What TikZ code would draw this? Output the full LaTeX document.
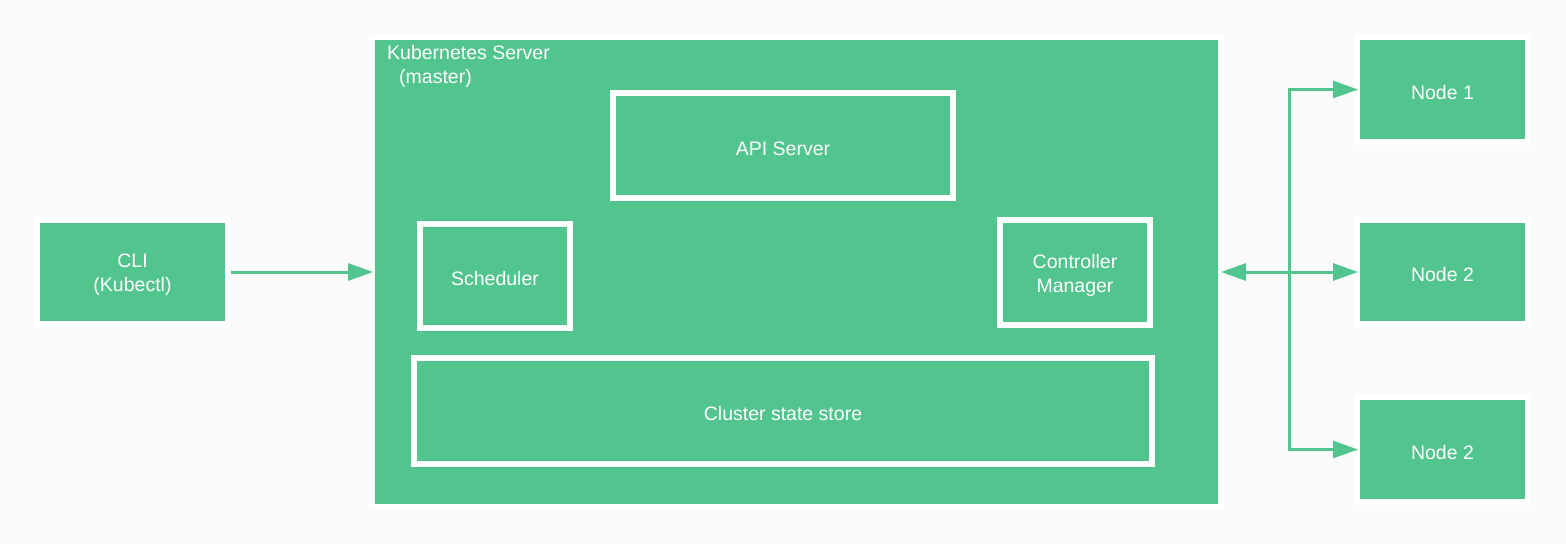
\documentclass[tikz,border=0pt]{standalone}
\usepackage{fontspec}
\setmainfont{Liberation Sans}
\usepackage{xcolor}
\usepackage{tikz}
\usetikzlibrary{positioning, calc, arrows.meta}
\definecolor{kGreen}{RGB}{82, 196, 141}
\definecolor{kBack}{RGB}{250, 250, 250}
\tikzset{
    base/.style={
        font=\fontsize{19.5}{24}\selectfont,
        align=center,
        text=white
    },
    block/.style={
        rectangle,
        draw=white,
        line width=6pt,
        fill=kGreen,
        inner sep=0pt
    },
    tag/.style={
        label={[base, yshift=-3pt]center:#1}
    },
    flow/.style={
        -{Triangle[length=25pt, width=17pt]},
        line width=3pt,
        draw=kGreen,
        shorten >=-4pt
    },
    biflow/.style={
        {Triangle[length=25pt, width=17pt]}-{Triangle[length=25pt, width=17pt]},
        line width=3pt,
        draw=kGreen,
        shorten <=-3pt,
        shorten >=-4pt
    }
}
\begin{document}
\begin{tikzpicture}[x=1pt, y=-1pt]
    % canvas
    \fill[kBack] (0,0) rectangle (1566,544);
    \useasboundingbox (0,0) rectangle (1566,544);

    % Master
    \node[block, minimum width=849pt, minimum height=470pt] (master) at (796.5,272) {};
    \node[base, align=left, anchor=north west, inner sep=0pt] (title) at (387,45)
        {Kubernetes Server\\\hspace*{12pt}(master)};

    % API Server
    \node[block, tag={API Server}, minimum width=340pt, minimum height=105pt] (api) at (783,145.5) {};

    % Scheduler
    \node[block, tag={Scheduler}, minimum width=150pt, minimum height=104pt] (sched) at (495,276) {};

    % Controller Manager
    \node[block, tag={Controller\\Manager}, minimum width=150pt, minimum height=105pt] (ctrl) at (1075,272.5) {};

    % Cluster state store
    \node[block, tag={Cluster state store}, minimum width=738pt, minimum height=106pt] (store) at (783,411) {};

    % CLI
    \node[block, tag={CLI\\(Kubectl)}, minimum width=191pt, minimum height=104pt] (cli) at (132.5,272) {};

    % Nodes
    \node[block, tag={Node 1}, minimum width=171pt, minimum height=105pt] (node1) at (1442.5,89.5) {};
    \node[block, tag={Node 2}, minimum width=171pt, minimum height=104pt] (node2) at (1442.5,272) {};
    \node[block, tag={Node 2}, minimum width=171pt, minimum height=105pt] (node3) at (1442.5,449.5) {};

    % Connectors
    \draw[flow] (cli.east) -- (master.west);
    \coordinate (hub) at (1289,272);
    \draw[biflow] (master.east) -- (node2.west);
    \draw[flow] (hub) |- (node1.west);
    \draw[flow] (hub) |- (node3.west);

\end{tikzpicture}
\end{document}
